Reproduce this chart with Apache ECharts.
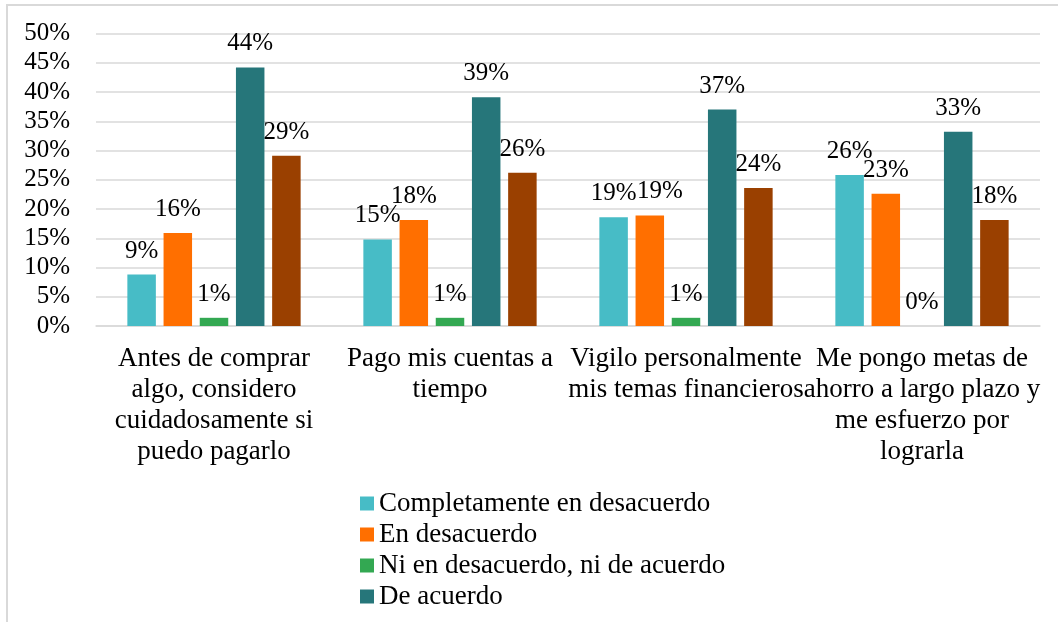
<!DOCTYPE html>
<html>
<head>
<meta charset="utf-8">
<script src="https://cdn.jsdelivr.net/npm/echarts@6/dist/echarts.min.js"></script>
<style>
  html, body { margin: 0; padding: 0; background: #fff; }
  #frame {
    position: absolute; left: 6px; top: 4px; width: 1052px; height: 618px;
    border-top: 2px solid #d9d9d9; border-left: 2px solid #d9d9d9;
  }
  #chart { position: absolute; left: 0; top: 0; width: 1058px; height: 622px; }
</style>
</head>
<body>
<div id="frame"></div>
<div id="chart"></div>
<script>
const categories = [
  'Antes de comprar\nalgo, considero\ncuidadosamente si\npuedo pagarlo',
  'Pago mis cuentas a\ntiempo',
  'Vigilo personalmente\nmis temas financieros',
  'Me pongo metas de\nahorro a largo plazo y\nme esfuerzo por\nlograrla'
];
const seriesNames = [
  'Completamente en desacuerdo',
  'En desacuerdo',
  'Ni en desacuerdo, ni de acuerdo',
  'De acuerdo',
  'Completamente de acuerdo'
];
const completamenteDesacuerdo = [8.8, 14.8, 18.6, 25.8];
const enDesacuerdo = [15.9, 18.1, 18.9, 22.6];
const niDesacuerdoNiAcuerdo = [1.4, 1.4, 1.4, 0];
const deAcuerdo = [44.2, 39.1, 37.0, 33.2];
const completamenteAcuerdo = [29.1, 26.2, 23.6, 18.1];
const yTicks = [0, 5, 10, 15, 20, 25, 30, 35, 40, 45, 50];

const colors = ['#47bcc6', '#ff6f00', '#33a852', '#26767a', '#9a4000'];
const values = [completamenteDesacuerdo, enDesacuerdo, niDesacuerdoNiAcuerdo, deAcuerdo, completamenteAcuerdo];
const font = 'Liberation Serif';

const series = values.map((data, i) => ({
  name: seriesNames[i],
  type: 'bar',
  // the "En desacuerdo" label in the 3rd group is nudged right so it doesn't sit on its neighbour
  data: data.map((v, j) => (i === 1 && j === 2) ? { value: v, label: { offset: [10, 0] } } : v),
  barWidth: 28.5,
  barGap: '27%',
  itemStyle: { color: colors[i] },
  label: {
    show: true,
    position: 'top',
    distance: 11,
    fontFamily: font,
    fontSize: 25,
    color: '#000',
    formatter: p => Math.round(p.value) + '%'
  }
}));

const chart = echarts.init(document.getElementById('chart'));
chart.setOption({
  animation: false,
  textStyle: { fontFamily: font },
  grid: { left: 96, right: 18, top: 33.5, bottom: 296, containLabel: false },
  legend: {
    data: seriesNames.slice(0, 4),
    orient: 'vertical',
    left: 355,
    top: 485,
    icon: 'rect',
    itemWidth: 14,
    itemHeight: 14,
    itemGap: 4,
    textStyle: { fontFamily: font, fontSize: 27, lineHeight: 27, color: '#000' }
  },
  xAxis: {
    type: 'category',
    data: categories,
    axisLine: { lineStyle: { color: '#d9d9d9', width: 1.5 } },
    axisTick: { show: false },
    axisLabel: {
      interval: 0,
      margin: 17,
      fontFamily: font,
      fontSize: 27,
      lineHeight: 31,
      color: '#000'
    }
  },
  yAxis: {
    type: 'value',
    min: yTicks[0],
    max: yTicks[yTicks.length - 1],
    interval: 5,
    axisLine: { show: false },
    axisTick: { show: false },
    splitLine: { lineStyle: { color: '#d9d9d9', width: 1.5 } },
    axisLabel: {
      margin: 26,
      fontFamily: font,
      fontSize: 25,
      color: '#000',
      formatter: v => v + '%'
    }
  },
  series: series
});
</script>
</body>
</html>
